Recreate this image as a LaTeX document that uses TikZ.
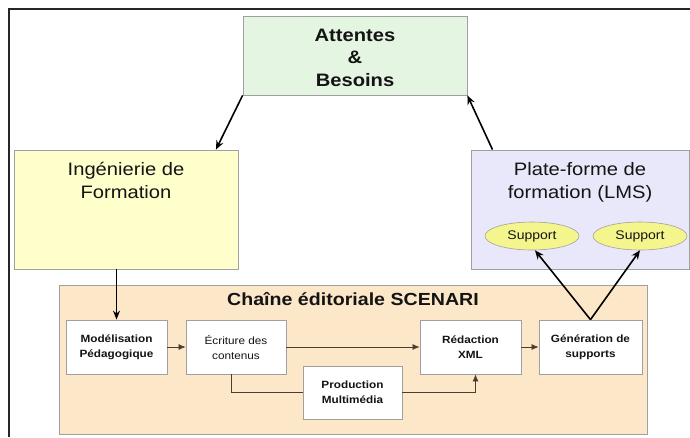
\documentclass[tikz,border=0pt]{standalone}
\usepackage{fontspec}
\setmainfont{Liberation Sans}[FakeStretch=1.12]
\usetikzlibrary{arrows.meta,shapes.geometric,calc}
\definecolor{attfill}{HTML}{E4F5E2}
\definecolor{ingfill}{HTML}{FFFFCC}
\definecolor{plffill}{HTML}{E8E8FA}
\definecolor{scenfill}{HTML}{FCE8C9}
\definecolor{supfill}{HTML}{F5F58E}
\definecolor{bordgrey}{HTML}{A0A0A0}
\definecolor{thinline}{HTML}{4A3E32}
\definecolor{txt}{HTML}{141414}
\tikzset{
  bigbox/.style={draw=bordgrey, line width=0.8pt, rectangle, inner sep=0pt},
  smallbox/.style={draw=bordgrey, line width=0.8pt, fill=white, rectangle, inner sep=0pt,
     minimum width=101pt, minimum height=54pt, align=center, text=txt,
     font=\fontsize{10.5}{15}\selectfont\bfseries},
  bigtxt/.style={align=center, text=txt, font=\fontsize{18}{23}\selectfont},
  suppell/.style={ellipse, draw=bordgrey, line width=0.6pt, fill=supfill, inner sep=0pt,
     minimum width=94pt, minimum height=28pt, text=txt, font=\fontsize{12.5}{14}\selectfont},
  bigarrow/.style={line width=1.6pt, -{Stealth[length=9pt,width=7.5pt]}},
  thinarrow/.style={line width=0.7pt, draw=thinline, -{Latex[length=7pt,width=6pt]}},
  thinlink/.style={line width=0.7pt, draw=thinline}
}
\begin{document}
\begin{tikzpicture}[x=1pt,y=-1pt]
\useasboundingbox (0,0) rectangle (690,437);
% frame
\draw[line width=1.5pt, draw=black!85] (690,9) -- (9,9) -- (9,437);
% top box
\node[bigbox, fill=attfill, minimum width=224pt, minimum height=79pt] (att) at (355,55.5) {};
\node[bigtxt, font=\fontsize{18}{22.5}\selectfont\bfseries] (attt) at (355,57.5) {Attentes\\\&\\Besoins};
% Ingenierie
\node[bigbox, fill=ingfill, minimum width=224pt, minimum height=119pt] (ing) at (126,209.5) {};
\node[bigtxt] (ingt) at (126,180) {Ingénierie de\\Formation};
% Plate-forme
\node[bigbox, fill=plffill, minimum width=218pt, minimum height=119pt] (plf) at (580,209.5) {};
\node[bigtxt] (plft) at (580,182) {Plate-forme de\\formation (LMS)};
\node[suppell] (sup1) at (532,236) {Support};
\node[suppell] (sup2) at (640,236) {Support};
% SCENARI container
\node[bigbox, fill=scenfill, minimum width=588pt, minimum height=149pt] (scen) at (353,359.5) {};
\node[text=txt, font=\fontsize{17.5}{20}\selectfont\bfseries] (scent) at (353,299) {Chaîne éditoriale SCENARI};
\node[smallbox] (mod) at (116.5,347) {Modélisation\\Pédagogique};
\node[smallbox, minimum width=100pt, font=\fontsize{10.5}{15}\selectfont] (ecr) at (236,347) {Écriture des\\contenus};
\node[smallbox] (red) at (470.5,347) {Rédaction\\XML};
\node[smallbox, minimum width=103pt] (gen) at (590.5,347) {Génération de\\supports};
\node[smallbox, minimum width=99pt, minimum height=53pt] (prod) at (352.5,392.5) {Production\\Multimédia};
% big arrows
\draw[bigarrow] (att.south west) -- ($(ing.north west)!0.9!(ing.north east)$);
\draw[bigarrow] ($(plf.north west)!0.1!(plf.north east)$) -- (att.south east);
\draw[line width=1.3pt, -{Stealth[length=9pt,width=7pt]}] (mod.north |- ing.south) -- (mod.north);
\draw[bigarrow] (gen.north) -- ([xshift=3pt]sup1.south);
\draw[bigarrow] (gen.north) -- (sup2.south);
% thin connectors
\draw[thinarrow] (mod.east) -- (ecr.west);
\draw[thinarrow] (ecr.east) -- (red.west);
\draw[thinlink] ([xshift=-5pt]ecr.south) |- (prod.west);
\draw[thinarrow] (prod.east) -| ([xshift=5pt]red.south);
\draw[thinarrow] (red.east) -- (gen.west);
\end{tikzpicture}
\end{document}
